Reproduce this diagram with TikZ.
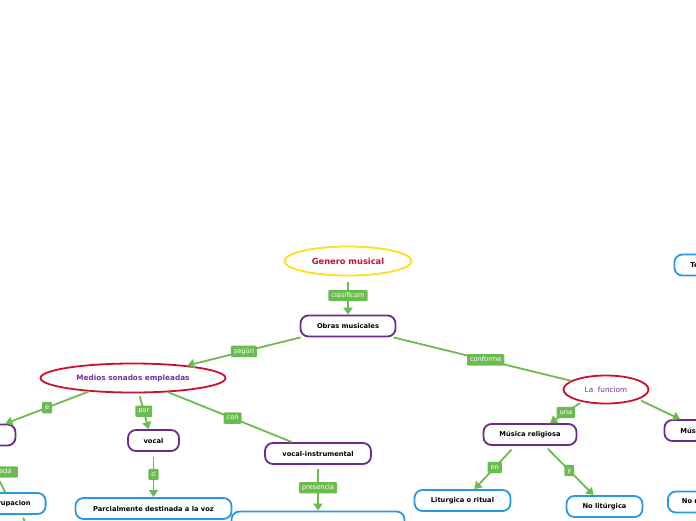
\documentclass[tikz,border=0pt]{standalone}
\usepackage{fontspec}
\setmainfont{DejaVu Sans}
\usetikzlibrary{shapes.geometric,arrows.meta}
\definecolor{cgreen}{RGB}{108,187,80}
\definecolor{cpurple}{RGB}{108,42,142}
\definecolor{ctpurple}{RGB}{112,48,160}
\definecolor{ccrimson}{RGB}{200,18,48}
\definecolor{cyellow}{RGB}{255,222,30}
\definecolor{cblue}{RGB}{42,152,226}
\begin{document}
\begin{tikzpicture}[x=1pt,y=-1pt,
  conn/.style={draw=cgreen,line width=1.8pt},
  tip/.style={-{Triangle[length=7pt,width=9pt]}},
  lab/.style={fill=cgreen,text=white,font=\fontsize{6.6}{7}\selectfont,inner xsep=3pt,inner ysep=2.6pt,rounded corners=1pt,text height=4.8pt,text depth=1.4pt},
  pbox/.style={draw=cpurple,line width=1.8pt,rounded corners=8pt,fill=white,font=\fontsize{6.7}{8}\selectfont\bfseries,minimum height=21pt,inner sep=0pt},
  bbox/.style={pbox,draw=cblue},
  oval/.style={ellipse,line width=1.8pt,fill=white,inner sep=0pt},
]
\useasboundingbox (0,0) rectangle (696,520);
\clip (0,0) rectangle (696,520);

% nodes
\node[oval,draw=cyellow,minimum width=127pt,minimum height=29pt,text=ccrimson,font=\fontsize{8.3}{10}\selectfont\bfseries] (gen) at (348,261) {Genero musical};
\node[pbox,minimum width=95pt] (obras) at (348,326) {Obras musicales};
\node[oval,draw=ccrimson,minimum width=185pt,minimum height=29pt,text=ctpurple,font=\fontsize{7.3}{9}\selectfont\bfseries] (medios) at (133,378) {Medios sonados empleadas};
\node[oval,draw=ccrimson,minimum width=85pt,minimum height=28pt,text=ctpurple,font=\fontsize{7.3}{9}\selectfont] (func) at (606,389.5) {La\ \ funciom};

\node[pbox,minimum width=59pt] (m1) at (-14,435) {};
\node[pbox,minimum width=51pt] (vocal) at (153.5,440.5) {vocal};
\node[pbox,minimum width=106pt] (vi) at (318,453.5) {vocal-instrumental};
\node[bbox,minimum width=156pt] (parc) at (153.5,508.5) {Parcialmente destinada a la voz};
\node[bbox,minimum width=173pt] (pres) at (318,522) {};
\node[bbox,inner xsep=15pt,anchor=east] (agrup) at (46.5,503.5) {Agrupacion};
\node[lab,anchor=east,text width=40pt,align=right] (ada) at (18,472) {ada\hspace*{3.5pt}};

\node[pbox,minimum width=93pt] (musrel) at (530,434.5) {Música religiosa};
\node[pbox,anchor=west,text width=60pt,align=left,inner xsep=16pt] (mus2) at (663.5,430.5) {Música};
\node[bbox,minimum width=96pt] (lit) at (462.5,500.5) {Liturgica o ritual};
\node[bbox,minimum width=76pt] (nolit) at (604.5,506.5) {No litúrgica};
\node[bbox,anchor=west,text width=60pt,align=left,inner xsep=14pt] (nor) at (667,502) {No religiosa};
\node[bbox,anchor=west,text width=40pt,align=left,inner xsep=16pt] (te) at (673.5,265) {Te};
\coordinate (agout) at (34,545);

% connectors
\draw[conn,tip,shorten <=6pt] (gen.south) -- node[lab]{clasificam} (obras.north);
\draw[conn,tip] ([xshift=1pt]obras.south west) -- node[lab]{según} (medios.13);
\draw[conn] ([xshift=-3pt]obras.south east) -- node[lab,pos=0.52]{conforme} (func.166);
\draw[conn,tip] (medios.197) -- node[lab]{e} ([xshift=-11pt]m1.north east);
\draw[conn,tip,shorten <=3pt] ([xshift=6pt]medios.south) -- node[lab]{por} ([xshift=-5pt]vocal.north);
\draw[conn] (medios.-22) -- node[lab,pos=0.52]{con} ([xshift=-26pt]vi.north);
\draw[conn,tip,shorten <=5pt] (vocal.south) -- node[lab]{o} (parc.north);
\draw[conn,tip,shorten <=4pt] (vi.south) -- node[lab]{presencia} (pres.north);
\draw[conn,tip,shorten <=2pt] (func.207) -- node[lab]{una} ([xshift=20pt]musrel.north);
\draw[conn,tip,shorten <=3pt] (func.-17) -- ([xshift=16.5pt]mus2.north west);
\draw[conn,tip,shorten <=5pt] ([xshift=-15pt]musrel.south) -- node[lab]{en} ([xshift=12pt]lit.north);
\draw[conn,tip,shorten <=4pt] ([xshift=15pt]musrel.south) -- node[lab]{y} ([xshift=-11pt]nolit.north);
\draw[conn,shorten <=5pt] ([xshift=-4pt]m1.south) -- ([xshift=-4pt]agrup.north);
\draw[conn,shorten <=3pt] ([xshift=13pt]agrup.south) -- (agout);
\end{tikzpicture}
\end{document}
